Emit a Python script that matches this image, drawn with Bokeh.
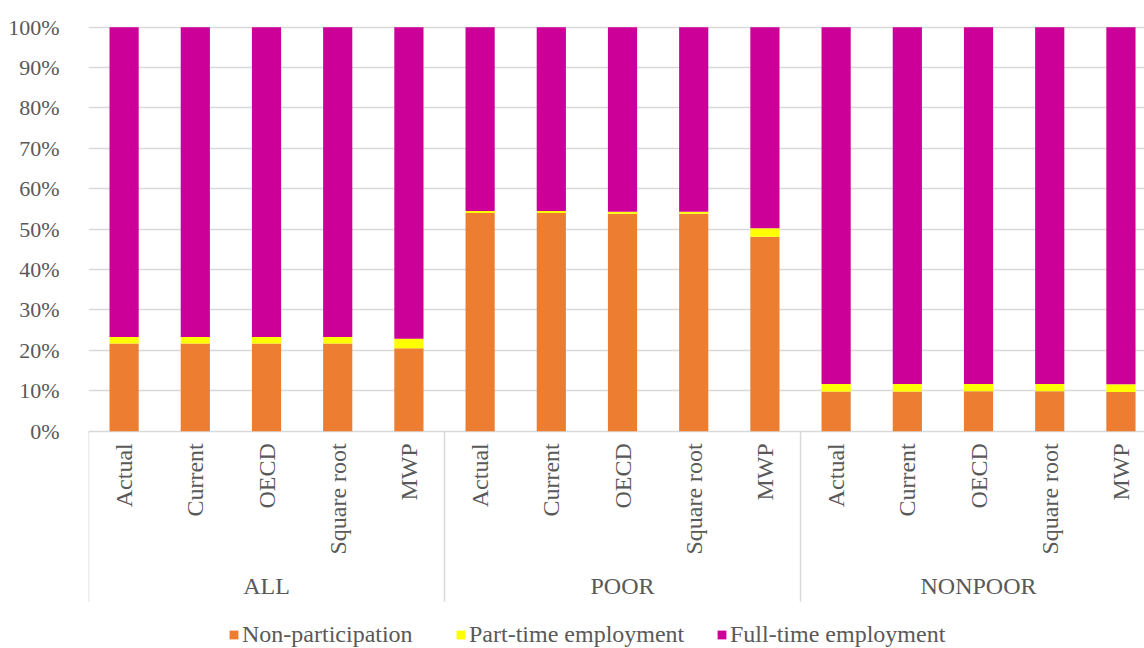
import numpy as np
from bokeh.plotting import figure
from bokeh.models import (ColumnDataSource, Range1d, FixedTicker, Legend, LegendItem,
                          PrintfTickFormatter)
from bokeh.core.properties import value
from bokeh.embed import file_html
from bokeh.resources import INLINE

# ---------------- data ----------------
groups = ["ALL", "POOR", "NONPOOR"]
scenarios = ["Actual", "Current", "OECD", "Square root", "MWP"]
non_participation = [21.7, 21.7, 21.7, 21.7, 20.5,
                     54.0, 54.0, 53.8, 53.8, 48.1,
                     9.8, 9.8, 9.9, 9.9, 9.7]
part_time = [1.6, 1.6, 1.6, 1.6, 2.4,
             0.5, 0.5, 0.5, 0.5, 2.1,
             1.9, 1.9, 1.8, 1.8, 1.9]
full_time = [76.7, 76.7, 76.7, 76.7, 77.1,
             45.5, 45.5, 45.7, 45.7, 49.8,
             88.3, 88.3, 88.3, 88.3, 88.4]
series_names = ["Non-participation", "Part-time employment", "Full-time employment"]
y_ticks = [0, 10, 20, 30, 40, 50, 60, 70, 80, 90, 100]

# ---------------- styling ----------------
COLORS = ["#ED7D31", "#FFFF00", "#CC0099"]
FONT = "Liberation Serif"
TXT = "#595959"
GRID = "#D9D9D9"

n_cat = len(scenarios)
labels = [s for g in groups for s in scenarios]
xpos = np.arange(len(labels)) + 0.5

src = ColumnDataSource(dict(x=xpos, non=non_participation, part=part_time,
                            full=full_time, label=labels))

p = figure(width=1144, height=648, output_backend="svg", toolbar_location=None,
           x_range=Range1d(0, 14.831), y_range=Range1d(-53.8, 102.4),
           min_border_left=88, min_border_right=0, min_border_top=17,
           min_border_bottom=0)
p.outline_line_color = None
p.background_fill_color = "white"
p.border_fill_color = "white"

# y axis
p.yaxis.ticker = FixedTicker(ticks=y_ticks)
p.yaxis.formatter = PrintfTickFormatter(format="%d%%")
p.yaxis.axis_line_color = None
p.yaxis.major_tick_line_color = None
p.yaxis.minor_tick_line_color = None
p.yaxis.major_label_standoff = 23
p.yaxis.major_label_text_font = FONT
p.yaxis.major_label_text_font_size = "22px"
p.yaxis.major_label_text_color = TXT
p.ygrid.grid_line_color = GRID
p.ygrid.grid_line_width = 1.3
p.xaxis.visible = False
p.xgrid.visible = False

renderers = p.vbar_stack(["non", "part", "full"], x="x", width=0.41,
                         color=COLORS, source=src, line_color=None)

# category labels (vertical)
p.text(x="x", y=-3.0, text="label", source=src, angle=np.pi / 2,
       text_align="right", text_baseline="middle",
       text_font=value(FONT), text_font_size="24px", text_color=TXT)

# group labels
gsrc = ColumnDataSource(dict(x=np.arange(len(groups)) * n_cat + n_cat / 2, label=groups))
p.text(x="x", y=-38.4, text="label", source=gsrc, text_align="center",
       text_baseline="middle", text_font=value(FONT), text_font_size="24px",
       text_color=TXT)

# group separators
sep_x = np.arange(len(groups)) * n_cat
p.segment(x0=sep_x, y0=0, x1=sep_x, y1=-42.2, line_color=GRID, line_width=1.5)

# legends (one per item for exact placement)
leg_x = [140, 367, 628]
for r, name, lx in zip(renderers, series_names, leg_x):
    leg = Legend(items=[LegendItem(label=name, renderers=[r])], location=(lx, 0),
                 orientation="horizontal", glyph_width=11, glyph_height=11,
                 label_standoff=3, padding=0, margin=0, spacing=0,
                 border_line_color=None, background_fill_alpha=0,
                 label_text_font=FONT, label_text_font_size="24px",
                 label_text_color=TXT)
    p.add_layout(leg)

open("out.html", "w").write(file_html(p, INLINE))
